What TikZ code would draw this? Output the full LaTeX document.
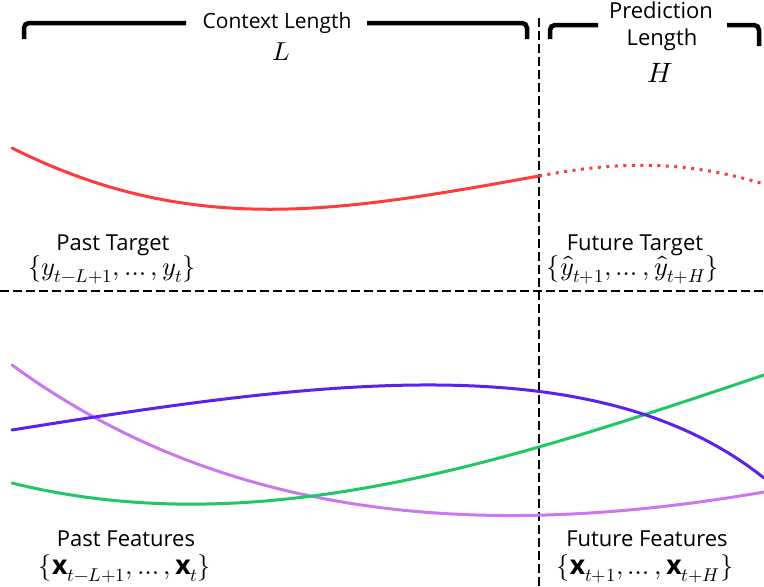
\documentclass[tikz,border=0pt]{standalone}
\usepackage{fontspec}
\setmainfont{Open Sans}
\usepackage{amsmath}
\usepackage{unicode-math}
\setmathfont{Latin Modern Math}
\begin{document}
\begin{tikzpicture}[x=1pt,y=-1pt,
  lbl/.style={font=\fontsize{22}{24}\selectfont, text=black, inner sep=0pt},
  formula/.style={font=\fontsize{26.5}{28}\selectfont, inner sep=0pt},
  symbol/.style={inner sep=0pt, font=\fontsize{26}{28}\selectfont},
  brace/.style={line width=4.5pt, rounded corners=5pt},
  divider/.style={line width=2.8pt, dash pattern=on 9pt off 4pt},
  curve/.style={line width=3pt, line cap=round}]
\useasboundingbox (0,0) rectangle (764,587);

% colours of the series
\definecolor{targetred}{HTML}{FF3B3B}
\definecolor{violetfeat}{HTML}{5A22EE}
\definecolor{greenfeat}{HTML}{1FC864}
\definecolor{lilacfeat}{HTML}{CC77EE}

% brackets over the context and prediction windows
\coordinate (cl0) at (24,39);
\coordinate (cl1) at (24,23);
\coordinate (cl2) at (186,23);
\coordinate (cl3) at (367,23);
\coordinate (cl4) at (527,23);
\coordinate (cl5) at (527,39);
\draw[brace] (cl0) -- (cl1) -- (cl2);
\draw[brace] (cl3) -- (cl4) -- (cl5);
\node[lbl, font=\fontsize{21}{23}\selectfont] (ctx) at (277,23) {Context Length};
\node[symbol] (Lsym) at (281,52) {$L$};

\coordinate (pl0) at (550,39);
\coordinate (pl1) at (550,25);
\coordinate (pl2) at (598,25);
\coordinate (pl3) at (727,25);
\coordinate (pl4) at (759,25);
\coordinate (pl5) at (759,46);
\draw[brace] (pl0) -- (pl1) -- (pl2);
\draw[brace] (pl3) -- (pl4) -- (pl5);
\node[lbl] (pred) at (661,10) {Prediction};
\node[lbl] (plen) at (662,40) {Length};
\node[symbol, font=\fontsize{28}{30}\selectfont] (Hsym) at (660,73) {$H$};

% dividers: present time and target/feature split
\coordinate (vtop) at (539,18);
\coordinate (vbot) at (539,590);
\coordinate (hleft) at (0,291);
\coordinate (hright) at (764,291);
\draw[divider] (vtop) -- (vbot);
\draw[divider] (hleft) -- (hright);

% target series: observed, then forecast
\coordinate (r0) at (12,148);
\coordinate (r1) at (539,176);
\coordinate (r2) at (764,184);
\draw[curve, targetred] (r0) .. controls (192,238) and (339,212) .. (r1);
\draw[targetred, line width=3pt, dash pattern=on 3pt off 5.5pt]
  (r1) .. controls (619,161) and (684,160) .. (r2);

% feature series
\coordinate (l0) at (12,365);
\coordinate (l1) at (764,492);
\draw[curve, lilacfeat] (l0) .. controls (242,533) and (514,535) .. (l1);
\coordinate (g0) at (12,483);
\coordinate (g1) at (764,375);
\draw[curve, greenfeat] (g0) .. controls (262,545) and (514,459) .. (g1);
\coordinate (v0) at (12,430);
\coordinate (v1) at (764,478);
\draw[curve, violetfeat] (v0) .. controls (312,382) and (594,342) .. (v1);

% labels
\node[lbl] (pt) at (113,245) {Past Target};
\node[formula] (ptf) at (112,270) {$\{y_{t-L+1},\ldots,y_t\}$};
\node[lbl] (ft) at (635,245) {Future Target};
\node[formula] (ftf) at (633,270) {$\{\hat{y}_{t+1},\ldots,\hat{y}_{t+H}\}$};
\node[lbl] (pf) at (126,539) {Past Features};
\node[formula] (pff) at (125,569) {$\{\mathbf{x}_{t-L+1},\ldots,\mathbf{x}_t\}$};
\node[lbl] (ff) at (647,539) {Future Features};
\node[formula] (fff) at (645,569) {$\{\mathbf{x}_{t+1},\ldots,\mathbf{x}_{t+H}\}$};
\end{tikzpicture}
\end{document}
